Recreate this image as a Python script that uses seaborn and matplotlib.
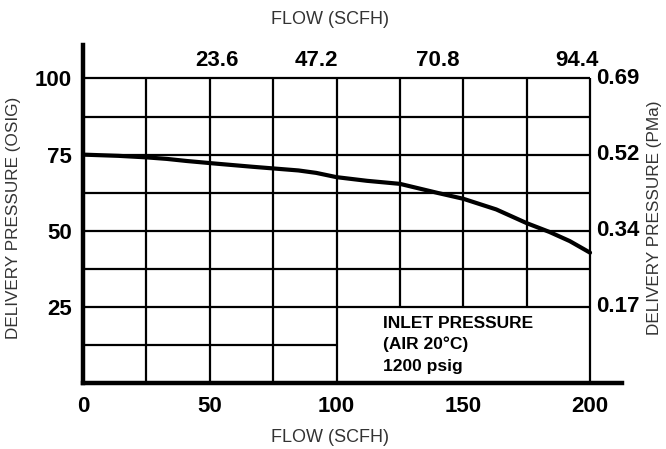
import matplotlib
matplotlib.use("Agg")
import matplotlib.pyplot as plt
import seaborn as sns
import pandas as pd

# ---- data ----
flow_scfh = [0, 14, 25, 33, 41, 53, 67, 76, 85, 92, 100, 112, 125, 131, 140, 150, 163, 175, 184, 192, 200]
delivery_osig = [75, 74.6, 74.1, 73.6, 72.9, 72.0, 71.0, 70.4, 69.8, 69.0, 67.6, 66.4, 65.4, 64.2, 62.4, 60.5, 57.0, 52.5, 49.6, 46.6, 42.8]

bottom_ticks = [0, 50, 100, 150, 200]
left_ticks = [25, 50, 75, 100]
right_ticks = [25, 50, 75, 100]
right_labels = ["0.17", "0.34", "0.52", "0.69"]
top_positions = [53, 92, 140, 195]
top_labels = ["23.6", "47.2", "70.8", "94.4"]
note_lines = ["INLET PRESSURE", "(AIR 20°C)", "1200 psig"]

sns.set_theme(style="white")
plt.rcParams['font.family'] = ['Liberation Sans', 'DejaVu Sans']

fig = plt.figure(figsize=(6.66, 4.49), dpi=100)
ax = fig.add_axes([83/666, (449-383)/449, (622-83)/666, (383-45)/449])

XMAX = 212.6
YMAX = 111.0
ax.set_xlim(0, XMAX)
ax.set_ylim(0, YMAX)

# grid
gkw = dict(color="black", lw=1.6, zorder=1)
ax.hlines(12.5, 0, 100, **gkw)
for y in [25, 37.5, 50, 62.5, 75, 87.5, 100]:
    ax.hlines(y, 0, 200, **gkw)
for x in [25, 50, 75, 100, 200]:
    ax.vlines(x, 0, 100, **gkw)
for x in [125, 150, 175]:
    ax.vlines(x, 25, 100, **gkw)

df = pd.DataFrame({"flow": flow_scfh, "pressure": delivery_osig})
sns.lineplot(data=df, x="flow", y="pressure", ax=ax, color="black", lw=3.0, zorder=3)

# spines
for s in ["top", "right"]:
    ax.spines[s].set_visible(False)
for s in ["left", "bottom"]:
    ax.spines[s].set_linewidth(3.2)
    ax.spines[s].set_color("black")
    ax.spines[s].set_zorder(4)

tfont = dict(fontsize=16, fontweight="bold", color="black")
ax.set_xticks(bottom_ticks)
ax.set_xticklabels([str(t) for t in bottom_ticks], **tfont)
ax.set_yticks(left_ticks)
ax.set_yticklabels([str(t) for t in left_ticks], **tfont)
ax.tick_params(axis="x", length=0, pad=9)
ax.tick_params(axis="y", length=0, pad=8)
ax.set_xlabel("")
ax.set_ylabel("")

for y, lab in zip(right_ticks, right_labels):
    ax.text(202.5, y, lab, ha="left", va="center", **tfont)
for x, lab in zip(top_positions, top_labels):
    ax.text(x, 105.8, lab, ha="center", va="center", **tfont)

for i, line in enumerate(note_lines):
    ax.text(118.5, 19.7 - i * 7.1, line, ha="left", va="center",
            fontsize=12.5, fontweight="bold", color="black")

lab = dict(color="#333333")
fig.text(330/666, 1 - 20/449, "FLOW (SCFH)", ha="center", va="center", fontsize=13, **lab)
fig.text(330/666, 1 - 437/449, "FLOW (SCFH)", ha="center", va="center", fontsize=13, **lab)
fig.text(14/666, 1 - 218/449, "DELIVERY PRESSURE (OSIG)", ha="center", va="center",
         rotation=90, fontsize=12.3, **lab)
fig.text(655/666, 1 - 218/449, "DELIVERY PRESSURE (PMa)", ha="center", va="center",
         rotation=90, fontsize=12.3, **lab)

fig.savefig("out.png", dpi=100)
